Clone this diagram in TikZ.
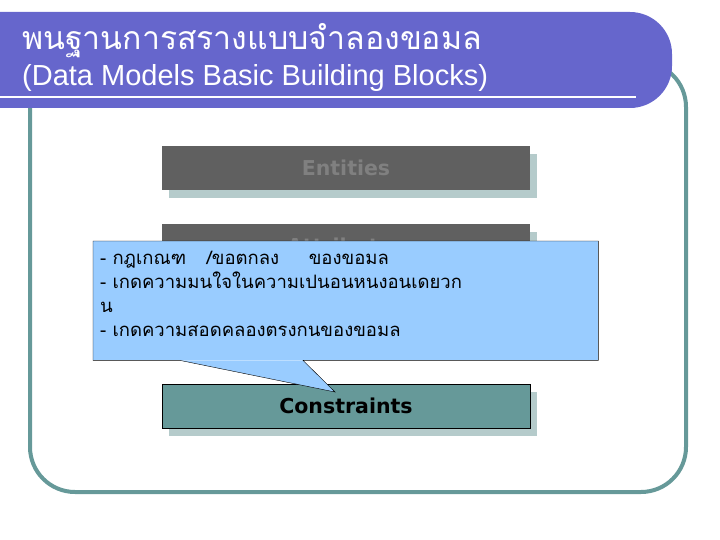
\documentclass[tikz,border=0pt]{standalone}
\usepackage{fontspec}
\setmainfont{DejaVu Sans}
\newfontfamily\thaifont[Script=Thai]{Loma}
\newfontfamily\titlefont{Liberation Sans}
\usepackage{tikz}
\usetikzlibrary{shadows, calc}

\definecolor{barpurple}{HTML}{6666CC}
\definecolor{frameteal}{HTML}{669999}
\definecolor{boxgrey}{HTML}{606060}
\definecolor{boxtext}{HTML}{808080}
\definecolor{shadowteal}{HTML}{B5CBCB}
\definecolor{noteblue}{HTML}{99CCFF}

\begin{document}
\begin{tikzpicture}[
    x=1pt, y=-1pt,
    box/.style={rectangle, minimum width=368pt, minimum height=44pt,
      fill=boxgrey, text=boxtext, font=\bfseries\fontsize{20.5}{24}\selectfont,
      general shadow={fill=shadowteal, shadow xshift=7pt, shadow yshift=-8pt}},
    note/.style={rectangle, anchor=north west, minimum width=505pt,
      minimum height=119pt, text width=491pt, inner sep=7pt, align=left,
      fill=noteblue, font=\thaifont\fontsize{18.5}{24}\selectfont},
    frame/.style={draw=frameteal, line width=4pt, rounded corners=45pt}
]
\useasboundingbox (0,0) rectangle (720,540);

% Slide frame and title bar
\draw[frame] (30,62) rectangle (686,492);
\fill[barpurple, rounded corners=42pt] (-60,12) rectangle (672,108);
\draw[white, line width=2.5pt] (0,97) -- (636,97);
\node[anchor=base west, text=white, inner sep=0pt,
  font=\thaifont\fontsize{32}{34}\selectfont] (title) at (22,50)
  {พนฐานการสรางแบบจำลองขอมล};
\node[anchor=base west, text=white, inner sep=0pt,
  font=\titlefont\fontsize{29}{30}\selectfont] (subtitle) at (22,86)
  {(Data Models Basic Building Blocks)};

% Building blocks
\node[box] (entities) at (346,168) {Entities};
\node[box] (attributes) at (346,246) {Attributes};
\node[box, draw=black, fill=frameteal, text=black] (constraints) at (346,406) {Constraints};

% Callout
\node[note] (rules) at (93,241) {- กฎเกณฑ\hspace{1.1em}/ขอตกลง\hspace{1.6em}ของขอมล\\
- เกดความมนใจในความเปนอนหนงอนเดยวก\\
น\\
- เกดความสอดคลองตรงกนของขอมล\\[-10pt]\mbox{}};
\coordinate (tip) at (335,392);
\fill[noteblue] ($(rules.south west)+(87,0)$) -- (tip) -- ($(rules.south west)+(210,0)$) -- cycle;
\draw (rules.south west) -- ($(rules.south west)+(87,0)$) -- (tip)
  -- ($(rules.south west)+(210,0)$) -- (rules.south east) -- (rules.north east)
  -- (rules.north west) -- cycle;

\end{tikzpicture}
\end{document}
